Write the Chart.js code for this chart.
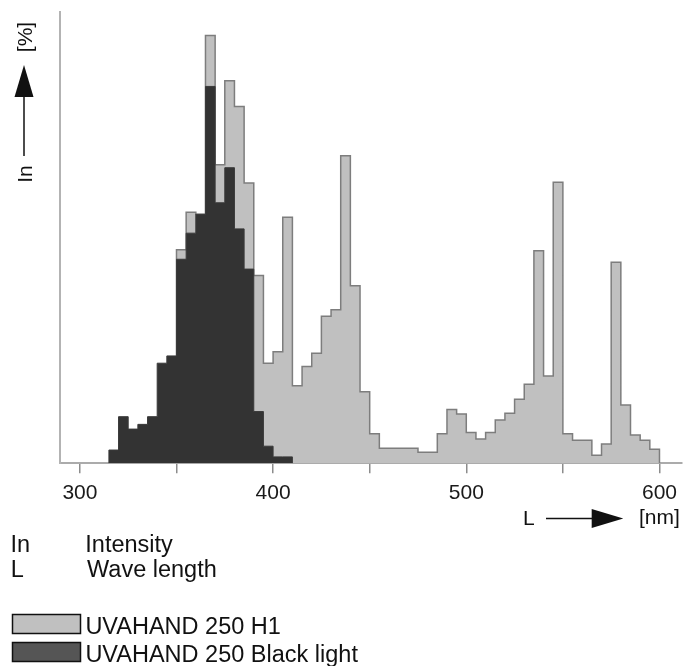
<!DOCTYPE html>
<html>
<head>
<meta charset="utf-8">
<script src="https://cdn.jsdelivr.net/npm/chart.js@4.4.1/dist/chart.umd.min.js"></script>
<style>
  html, body { margin: 0; padding: 0; background: #ffffff; }
  #wrap { position: relative; width: 684px; height: 666px; overflow: hidden;
          font-family: "Liberation Sans", Arial, Helvetica, sans-serif; }
  #c { position: absolute; left: 0; top: 0; }
  #overlay { position: absolute; left: 0; top: 0; pointer-events: none; }
  #overlay text { font-family: "Liberation Sans", Arial, Helvetica, sans-serif; fill: #111; }
</style>
</head>
<body>
<div id="wrap">
  <canvas id="c" width="684" height="666"></canvas>
  <svg id="overlay" width="684" height="666" xmlns="http://www.w3.org/2000/svg">
    <!-- y axis label: In ---> [%] -->
    <text font-size="21" text-anchor="middle" transform="translate(32,174) rotate(-90)">In</text>
    <line x1="24" y1="156" x2="24" y2="95" stroke="#111" stroke-width="1.5"/>
    <polygon points="14.5,97 33.5,97 24,65" fill="#111"/>
    <text font-size="21" text-anchor="middle" transform="translate(32,37) rotate(-90)">[%]</text>
    <!-- x axis label: L ---> [nm] -->
    <text font-size="21" x="523" y="524.5">L</text>
    <line x1="546" y1="518.5" x2="594" y2="518.5" stroke="#111" stroke-width="1.5"/>
    <polygon points="591.7,509 591.7,528 623.3,518.5" fill="#111"/>
    <text font-size="21" x="639" y="524">[nm]</text>
    <!-- symbol definitions -->
    <text id="defSym1" font-size="23.5" x="10.5" y="551.7">In</text>
    <text id="defTxt1" font-size="23.5" x="85.3" y="551.7">Intensity</text>
    <text id="defSym2" font-size="23.5" x="10.8" y="576.7">L</text>
    <text id="defTxt2" font-size="23.5" x="87" y="576.7">Wave length</text>
    <g id="legend"></g>
  </svg>
</div>
<script>
// ---------------- data ----------------
const seriesNames = ['UVAHAND 250 H1', 'UVAHAND 250 Black light'];

// UVAHAND 250 H1 : left edge of each 5 nm band [nm] and relative intensity [%]
const h1Wavelengths = [350, 355, 360, 365, 370, 375, 380, 385, 390, 395,
                       400, 405, 410, 415, 420, 425, 430, 435, 440, 445,
                       450, 455, 460, 465, 470, 475, 480, 485, 490, 495,
                       500, 505, 510, 515, 520, 525, 530, 535, 540, 545,
                       550, 555, 560, 565, 570, 575, 580, 585, 590, 595];
const h1Values = [49.9, 58.7, 58.2, 100, 69.8, 89.4, 83.4, 65.5, 43.9, 23.4,
                  26.1, 57.5, 18.1, 22.6, 25.7, 34.4, 35.9, 71.9, 41.5, 16.7,
                  6.9, 3.5, 3.5, 3.5, 3.5, 2.6, 2.6, 6.9, 12.6, 11.5,
                  7.2, 5.7, 7.2, 10.1, 11.7, 15.0, 18.5, 49.7, 20.4, 65.7,
                  6.9, 5.4, 5.4, 1.9, 4.5, 47.0, 13.6, 6.6, 5.4, 3.3];
const h1End = 600;

// UVAHAND 250 Black light
const blackWavelengths = [315, 320, 325, 330, 335, 340, 345, 350, 355, 360,
                          365, 370, 375, 380, 385, 390, 395, 400, 405];
const blackValues = [3.1, 10.9, 8.0, 9.1, 10.9, 23.4, 25.1, 47.7, 53.8, 58.2,
                     88.1, 60.9, 69.1, 54.8, 45.4, 12.1, 4.0, 1.5, 1.5];
const blackEnd = 410;

// x axis ticks
const xTickValues = [300, 350, 400, 450, 500, 550, 600];
const xTickLabels = ['300', '', '400', '', '500', '', '600'];

// ---------------- helpers ----------------
function stepPoints(edges, values, end) {
  const pts = [{ x: edges[0], y: 0 }];
  edges.forEach((e, i) => pts.push({ x: e, y: values[i] }));
  pts.push({ x: end, y: 0 });
  return pts;
}

const styles = [
  { fill: '#c0c0c0', border: '#7d7d7d', legendFill: '#c0c0c0' },
  { fill: '#333333', border: '#3a3a3a', legendFill: '#555555' }
];

const ctx = document.getElementById('c').getContext('2d');
const chart = new Chart(ctx, {
  type: 'line',
  data: {
    datasets: [
      {
        label: seriesNames[1],
        data: stepPoints(blackWavelengths, blackValues, blackEnd),
        stepped: 'before',
        fill: 'origin',
        backgroundColor: styles[1].fill,
        borderColor: styles[1].border,
        borderWidth: 1,
        pointRadius: 0,
        tension: 0
      },
      {
        label: seriesNames[0],
        data: stepPoints(h1Wavelengths, h1Values, h1End),
        stepped: 'before',
        fill: 'origin',
        backgroundColor: styles[0].fill,
        borderColor: styles[0].border,
        borderWidth: 1.5,
        pointRadius: 0,
        tension: 0
      }
    ]
  },
  options: {
    responsive: false,
    animation: false,
    events: [],
    layout: { padding: { left: 60, right: 0, top: 12, bottom: 153.5 } },
    plugins: { legend: { display: false }, tooltip: { enabled: false } },
    scales: {
      x: {
        type: 'linear',
        min: 289.7,
        max: 611.3,
        afterBuildTicks: (scale) => { scale.ticks = xTickValues.map(v => ({ value: v })); },
        ticks: {
          autoSkip: false,
          maxRotation: 0,
          padding: 7,
          color: '#1a1a1a',
          font: { family: '"Liberation Sans", Arial, sans-serif', size: 21 },
          callback: (value) => {
            const i = xTickValues.indexOf(value);
            return i >= 0 ? xTickLabels[i] : '';
          }
        },
        grid: { drawOnChartArea: false, drawTicks: true, tickLength: 10, color: '#8c8c8c', lineWidth: 1.5 },
        border: { display: true, color: '#ababab', width: 2 }
      },
      y: {
        type: 'linear',
        min: 0,
        max: 105.5,
        ticks: { display: false },
        grid: { drawOnChartArea: false, drawTicks: false },
        border: { display: true, color: '#b3b3b3', width: 2 }
      }
    }
  }
});

// ---------------- legend (built from the chart's datasets) ----------------
const NS = 'http://www.w3.org/2000/svg';
const legendG = document.getElementById('legend');
const legendOrder = [1, 0]; // H1 first, then Black light
legendOrder.forEach((dsIndex, row) => {
  const ds = chart.data.datasets[dsIndex];
  const st = ds.label === seriesNames[0] ? styles[0] : styles[1];
  const top = 614.5 + row * 28;
  const r = document.createElementNS(NS, 'rect');
  r.setAttribute('x', 12.5); r.setAttribute('y', top);
  r.setAttribute('width', 68); r.setAttribute('height', 19);
  r.setAttribute('fill', st.legendFill);
  r.setAttribute('stroke', '#111'); r.setAttribute('stroke-width', 1.5);
  legendG.appendChild(r);
  const t = document.createElementNS(NS, 'text');
  t.setAttribute('x', 85.4); t.setAttribute('y', top + 19.3);
  t.setAttribute('font-size', 23.5);
  t.textContent = ds.label;
  legendG.appendChild(t);
});
</script>
</body>
</html>
